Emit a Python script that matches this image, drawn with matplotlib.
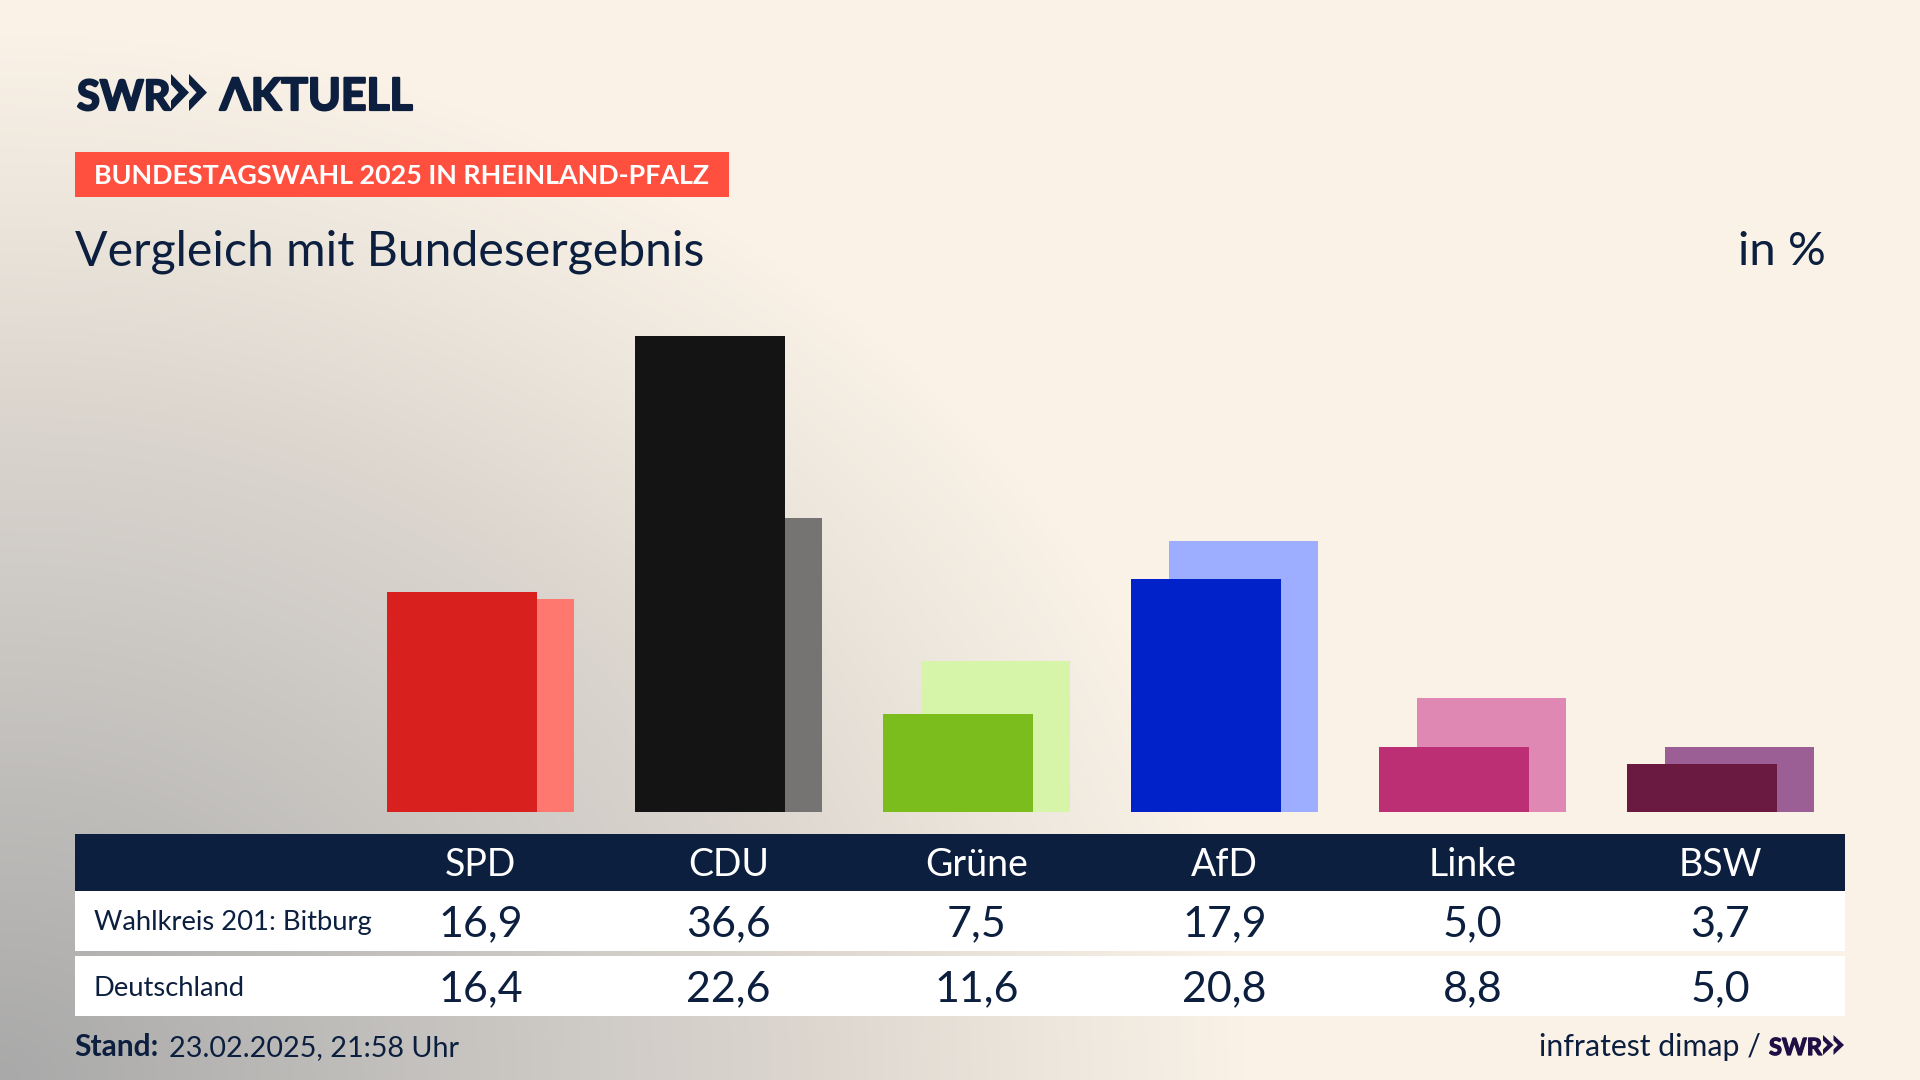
# %% Bundestagswahl comparison chart
import numpy as np
import matplotlib
matplotlib.use("Agg")
import matplotlib.pyplot as plt
import matplotlib.patheffects as pe
from matplotlib.patches import Rectangle, Polygon
from matplotlib.colors import LinearSegmentedColormap

plt.rcParams["font.family"] = ["Lato", "DejaVu Sans"]

# %% Data
parties = ["SPD", "CDU", "Grüne", "AfD", "Linke", "BSW"]
wahlkreis = [16.9, 36.6, 7.5, 17.9, 5.0, 3.7]
deutschland = [16.4, 22.6, 11.6, 20.8, 8.8, 5.0]
row_labels = ["Wahlkreis 201: Bitburg", "Deutschland"]
front_colors = ["#D8201E", "#141414", "#7ABD1C", "#0022C8", "#BC2F75", "#6A1A41"]
back_colors = ["#FF7870", "#757472", "#D6F5A8", "#9DADFF", "#DF88B4", "#9B5F96"]

NAVY = "#0C1F3F"
W, H = 1920, 1080


def put_text(x, y, s, size, color=NAVY, weight="normal", ha="left", heavy=0):  # x, y in pixels from top left
    t = fig.text(x / W, 1 - y / H, s, fontsize=size, color=color, fontweight=weight,
                 ha=ha, va="baseline")
    if heavy:  # logo lettering is heavier than Lato Bold
        t.set_path_effects([pe.withStroke(linewidth=heavy, foreground=color)])
    return t


def chevrons(x, y, w, h, color):  # two arrow heads of the SWR logo
    cw = w / 2
    for i in range(2):
        x0 = x + i * cw
        pts = [(x0, y), (x0 + cw, y + h / 2), (x0, y + h),
               (x0, y + h * 0.72), (x0 + cw * 0.42, y + h / 2), (x0, y + h * 0.28)]
        page.add_patch(Polygon(pts, closed=True, facecolor=color, edgecolor="none"))


fig = plt.figure(figsize=(W / 100, H / 100), dpi=100)

# %% Background: cream with a grey glow from the lower left corner
page = fig.add_axes([0, 0, 1, 1])
page.set_xlim(0, W)
page.set_ylim(H, 0)
page.axis("off")
yy, xx = np.mgrid[0:H:270j, 0:W:480j]
dist = np.sqrt((xx / 1250) ** 2 + ((H - yy) / 1050) ** 2)
glow = LinearSegmentedColormap.from_list(
    "glow", [(0, "#A9A9A9"), (0.4, "#C9C6C2"), (0.65, "#DCD6CF"),
             (0.85, "#EEE7DD"), (1, "#FAF2E7")])
page.imshow(np.clip(dist, 0, 1), cmap=glow, vmin=0, vmax=1, extent=(0, W, H, 0),
            aspect="auto", interpolation="bilinear", zorder=0)

# %% Bars, one percent is about 13 px
bars = fig.add_axes([356.5 / W, (H - 812) / H, 1488 / W, 520.4 / H])
bars.patch.set_alpha(0)
bars.set_xlim(-0.5, 5.5)
bars.set_ylim(0, 40)
bars.axis("off")
x = np.arange(len(parties))
bars.bar(x + 0.0766, deutschland, width=0.6, color=back_colors, linewidth=0)
bars.bar(x - 0.0750, wahlkreis, width=0.604, color=front_colors, linewidth=0)

# %% Table
page.add_patch(Rectangle((75, 834), 1770, 57, facecolor=NAVY, edgecolor="none"))
page.add_patch(Rectangle((75, 891), 1770, 60, facecolor="white", edgecolor="none"))
page.add_patch(Rectangle((75, 956), 1770, 60, facecolor="white", edgecolor="none"))
centers = [480.5 + 248 * i for i in x]
for cx, name, a, b in zip(centers, parties, wahlkreis, deutschland):
    put_text(cx, 876, name, 27, color="white", ha="center")
    put_text(cx, 936, f"{a:.1f}".replace(".", ","), 31, ha="center")
    put_text(cx, 1001, f"{b:.1f}".replace(".", ","), 31, ha="center")
put_text(94, 930, row_labels[0], 19.7)
put_text(94, 996, row_labels[1], 19.7)

# %% Header texts
put_text(77, 110, "SWR", 30, weight="bold", heavy=1.6)
chevrons(171, 74, 36, 37, NAVY)
put_text(220, 110, "ΛKTUELL", 32, weight="bold", heavy=1.6)
page.add_patch(Rectangle((75, 152), 654, 45, facecolor="#FF4F3F", edgecolor="none"))
put_text(94, 184, "BUNDESTAGSWAHL 2025 IN RHEINLAND-PFALZ", 19.4, color="white", weight="bold")
put_text(75, 265, "Vergleich mit Bundesergebnis", 34.7)
put_text(1826, 265, "in %", 34, ha="right")

# %% Footer
put_text(74, 1056, "Stand:", 21.5, weight="bold")
put_text(169, 1056, "23.02.2025, 21:58 Uhr", 20.7)
put_text(1539, 1056, "infratest dimap /", 21.8)
put_text(1769, 1055, "SWR", 17, color="#1F0F45", weight="bold", heavy=0.9)
chevrons(1823, 1035, 21, 20, "#1F0F45")

fig.savefig("out.png", dpi=100)
